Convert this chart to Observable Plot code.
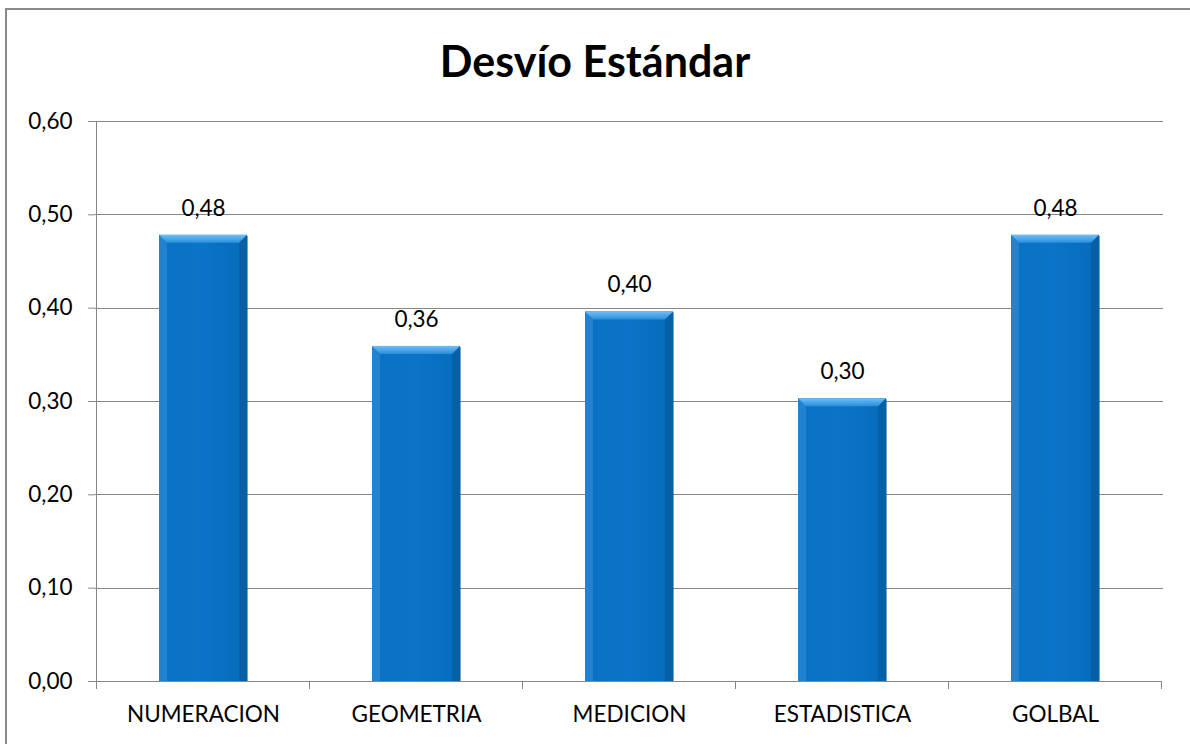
<!DOCTYPE html>
<html>
<head>
<meta charset="utf-8">
<script src="https://cdn.jsdelivr.net/npm/d3@7"></script>
<script src="https://cdn.jsdelivr.net/npm/@observablehq/plot@0.6"></script>
<style>
  html, body { margin: 0; padding: 0; background: #fff; }
  body { width: 1190px; height: 744px; position: relative; overflow: hidden; font-family: Lato, "Open Sans", sans-serif; }
  #frame { position: absolute; left: 5px; top: 8px; width: 1300px; height: 900px; border-left: 2px solid #8a8a8a; border-top: 2px solid #8a8a8a; }
  #title { position: absolute; left: 0; width: 1190px; top: 34px; text-align: center; font-weight: bold; font-size: 43px; color: #000; line-height: 54px; }
  #chart { position: absolute; left: 0; top: 95px; }
</style>
</head>
<body>
<div id="frame"></div>
<div id="title">Desvío Estándar</div>
<div id="chart"></div>
<script>
const categories = ["NUMERACION", "GEOMETRIA", "MEDICION", "ESTADISTICA", "GOLBAL"];
const values = [0.478, 0.359, 0.396, 0.303, 0.478];
const yTicks = [0, 0.1, 0.2, 0.3, 0.4, 0.5, 0.6];

const data = categories.map((c, i) => ({cat: c, value: values[i]}));
const fmt = d => d.toFixed(2).replace(".", ",");

const gridColor = "#878787";
const pad = 0.588;

function bw(s) { return typeof s.bandwidth === "function" ? s.bandwidth() : s.bandwidth; }
function st(s) { return typeof s.step === "function" ? s.step() : s.step; }

const defsMark = () => {
  const g = d3.create("svg:defs");
  const lg = g.append("linearGradient").attr("id", "topGrad").attr("x1", 0).attr("y1", 0).attr("x2", 0).attr("y2", 1);
  lg.append("stop").attr("offset", "0%").attr("stop-color", "#6cc0f6");
  lg.append("stop").attr("offset", "100%").attr("stop-color", "#2a8edc");
  const body = g.append("linearGradient").attr("id", "bodyGrad").attr("x1", 0).attr("y1", 0).attr("x2", 1).attr("y2", 0);
  body.append("stop").attr("offset", "0%").attr("stop-color", "#0a72c4");
  body.append("stop").attr("offset", "50%").attr("stop-color", "#0a74c8");
  body.append("stop").attr("offset", "100%").attr("stop-color", "#066bbb");
  return g.node();
};

const bevelMark = (index, scales) => {
  const x = scales.x, y = scales.y;
  const w = bw(x);
  const b = 8;
  const g = d3.create("svg:g");
  for (const d of data) {
    const x0 = x(d.cat), x1 = x0 + w;
    const y0 = y(d.value), yb = y(0);
    g.append("polygon").attr("points", [[x0, y0], [x0 + b, y0 + b], [x0 + b, yb], [x0, yb]].join(" ")).attr("fill", "#2382d0");
    g.append("polygon").attr("points", [[x1, y0], [x1 - b, y0 + b], [x1 - b, yb], [x1, yb]].join(" ")).attr("fill", "#0560a6");
    g.append("polygon").attr("points", [[x0, y0], [x1, y0], [x1 - b, y0 + b], [x0 + b, y0 + b]].join(" ")).attr("fill", "url(#topGrad)");
    g.append("line").attr("x1", x1 + 0.5).attr("x2", x1 + 0.5).attr("y1", y0 + 1).attr("y2", yb).attr("stroke", "#00467e").attr("stroke-opacity", 0.5);
  }
  return g.node();
};

const axisFrame = (index, scales) => {
  const x = scales.x, y = scales.y;
  const step = st(x), w = bw(x);
  const off = (step - w) / 2;
  const g = d3.create("svg:g").attr("stroke", gridColor).attr("fill", "none").attr("shape-rendering", "crispEdges");
  const xL = x(categories[0]) - off;
  const xR = x(categories[categories.length - 1]) + w + off;
  g.append("line").attr("x1", xL).attr("x2", xL).attr("y1", y(0.6)).attr("y2", y(0) + 8);
  g.append("line").attr("x1", xL - 7).attr("x2", xR).attr("y1", y(0)).attr("y2", y(0));
  for (const c of categories) {
    const xx = x(c) + w + off;
    g.append("line").attr("x1", xx).attr("x2", xx).attr("y1", y(0)).attr("y2", y(0) + 8);
  }
  return g.node();
};

const plot = Plot.plot({
  width: 1190,
  height: 649,
  marginLeft: 95,
  marginRight: 27,
  marginTop: 26,
  marginBottom: 63,
  style: { fontFamily: "Lato, 'Open Sans', sans-serif", fontSize: "22px", color: "#000", background: "transparent" },
  x: { domain: categories, paddingInner: pad, paddingOuter: pad / 2, label: null },
  y: { domain: [0, 0.6], label: null },
  marks: [
    defsMark,
    Plot.ruleY(yTicks.filter(t => t > 0), { stroke: gridColor, strokeWidth: 1, shapeRendering: "crispEdges" }),
    Plot.axisY({ ticks: yTicks, tickFormat: fmt, tickSize: 7, tickPadding: 16, stroke: gridColor, fontSize: 22.5, label: null }),
    Plot.axisX({ tickSize: 0, tickPadding: 25, fontSize: 22.5, label: null }),
    axisFrame,
    Plot.barY(data, { x: "cat", y: "value", fill: "url(#bodyGrad)" }),
    bevelMark,
    Plot.text(data, { x: "cat", y: "value", text: d => fmt(d.value), dy: -27, fontSize: 22.5, fill: "#000" })
  ]
});
document.getElementById("chart").appendChild(plot);
</script>
</body>
</html>
